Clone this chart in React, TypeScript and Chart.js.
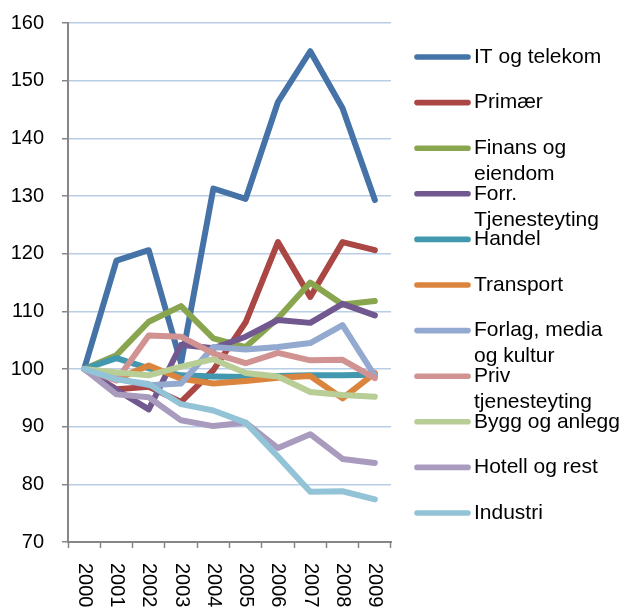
import { useEffect, useRef } from "react";
import { Chart, registerables } from "chart.js";

Chart.register(...registerables);

const years = ["2000", "2001", "2002", "2003", "2004", "2005", "2006", "2007", "2008", "2009"];

const seriesNames = [
  "IT og telekom",
  "Primær",
  "Finans og\neiendom",
  "Forr.\nTjenesteyting",
  "Handel",
  "Transport",
  "Forlag, media\nog kultur",
  "Priv\ntjenesteyting",
  "Bygg og anlegg",
  "Hotell og rest",
  "Industri",
];

const itTelekom = [100, 118.8, 120.6, 101, 131.3, 129.5, 146.3, 155.1, 145.2, 129.3];
const primaer = [100, 96.5, 96.9, 94.3, 99.8, 108.1, 122, 112.5, 122, 120.6];
const finans = [100, 102.4, 108.2, 110.9, 105.3, 103.8, 108.8, 115, 111.2, 111.8];
const forrTjeneste = [100, 96.4, 93, 104.2, 103.6, 105.6, 108.5, 108, 111.3, 109.3];
const handel = [100, 101.9, 100.1, 98.9, 98.7, 98.6, 98.8, 98.9, 98.9, 99];
const transport = [100, 98.2, 100.6, 98.3, 97.5, 97.9, 98.5, 98.8, 94.9, 99.3];
const forlag = [100, 98.3, 97.2, 97.5, 103.8, 103.4, 103.8, 104.5, 107.6, 98.8];
const privTjeneste = [100, 98, 105.8, 105.6, 102.7, 101, 102.8, 101.5, 101.6, 98.4];
const bygg = [100, 99.4, 98.9, 100.4, 101.7, 99.3, 98.7, 96, 95.5, 95.2];
const hotell = [100, 95.6, 95.1, 91.1, 90.1, 90.7, 86.3, 88.7, 84.4, 83.7];
const industri = [100, 98.2, 97.4, 93.9, 92.8, 90.7, 84.8, 78.7, 78.8, 77.4];

const seriesValues = [
  itTelekom, primaer, finans, forrTjeneste, handel, transport,
  forlag, privTjeneste, bygg, hotell, industri,
];

const seriesColors = [
  "#4572A7", "#AA4643", "#89A54E", "#71588F", "#4198AF", "#DB843D",
  "#93A9CF", "#D19392", "#B9CD96", "#A99BBD", "#92C3D6",
];

const FONT = '"Liberation Sans", Arial, Helvetica, sans-serif';

export default function App() {
  const ref = useRef<HTMLCanvasElement>(null);

  useEffect(() => {
    const canvas = ref.current;
    if (!canvas) return;

    const xLabelPlugin = {
      id: "xLabelsDown",
      afterDraw(chart: any) {
        const ctx = chart.ctx;
        const xs = chart.scales.x;
        ctx.save();
        ctx.font = `20px ${FONT}`;
        ctx.fillStyle = "#000";
        ctx.textAlign = "left";
        ctx.textBaseline = "middle";
        years.forEach((y, i) => {
          const px = xs.getPixelForTick(i);
          ctx.save();
          ctx.translate(px, xs.top + 21);
          ctx.rotate(Math.PI / 2);
          ctx.fillText(y, 0, 0);
          ctx.restore();
        });
        ctx.restore();
      },
    };

    const legendPlugin = {
      id: "sideLegend",
      afterDraw(chart: any) {
        const ctx = chart.ctx;
        const area = chart.chartArea;
        const lineStart = area.right + 26;
        const lineEnd = area.right + 77;
        const textX = area.right + 83;
        const firstY = 57;
        const spacing = 45.6;
        const lineHeight = 26;
        ctx.save();
        ctx.font = `21px ${FONT}`;
        ctx.textAlign = "left";
        ctx.textBaseline = "middle";
        seriesNames.forEach((name, i) => {
          const y = firstY + i * spacing;
          ctx.strokeStyle = seriesColors[i];
          ctx.lineWidth = 5.6;
          ctx.lineCap = "round";
          ctx.beginPath();
          ctx.moveTo(lineStart, y);
          ctx.lineTo(lineEnd, y);
          ctx.stroke();
          ctx.fillStyle = "#000";
          name.split("\n").forEach((ln, j) => {
            ctx.fillText(ln, textX, y + j * lineHeight);
          });
        });
        ctx.restore();
      },
    };

    const n = seriesNames.length;
    const chart = new Chart(canvas, {
      type: "line",
      data: {
        labels: years,
        datasets: seriesNames.map((name, i) => ({
          label: name.replace("\n", " "),
          data: seriesValues[i],
          borderColor: seriesColors[i],
          backgroundColor: seriesColors[i],
          borderWidth: 6,
          pointRadius: 0,
          tension: 0,
          fill: false,
          borderJoinStyle: "round" as const,
          borderCapStyle: "round" as const,
          order: n - i,
        })),
      },
      options: {
        responsive: false,
        maintainAspectRatio: false,
        animation: false,
        devicePixelRatio: 1,
        layout: { padding: { left: 0, top: 23, right: 232, bottom: 0 } },
        plugins: {
          legend: { display: false },
          tooltip: { enabled: false },
        },
        scales: {
          x: {
            type: "category",
            offset: true,
            grid: {
              offset: true,
              drawOnChartArea: false,
              drawTicks: true,
              tickLength: 6,
              tickColor: "#868686",
              tickWidth: 1.5,
            },
            border: { color: "#868686", width: 2 },
            ticks: { display: false },
            afterFit: (s: any) => {
              s.height = 70;
              s.paddingLeft = 0;
              s.paddingRight = 0;
            },
          },
          y: {
            min: 70,
            max: 160,
            ticks: {
              stepSize: 10,
              padding: 18,
              color: "#000",
              font: { family: FONT, size: 20 },
            },
            grid: {
              color: "#b9cde5",
              lineWidth: 1.5,
              drawTicks: true,
              tickLength: 6,
              tickColor: "#868686",
              tickWidth: 1.5,
            },
            border: { color: "#868686", width: 2 },
            afterFit: (s: any) => {
              s.width = 68;
              s.paddingTop = 0;
              s.paddingBottom = 0;
            },
          },
        },
      },
      plugins: [xLabelPlugin, legendPlugin],
    });

    return () => chart.destroy();
  }, []);

  return (
    <div style={{ position: "fixed", left: 0, top: 0, width: 623, height: 612, background: "#fff" }}>
      <canvas ref={ref} width={623} height={612} style={{ width: 623, height: 612, display: "block" }} />
    </div>
  );
}
